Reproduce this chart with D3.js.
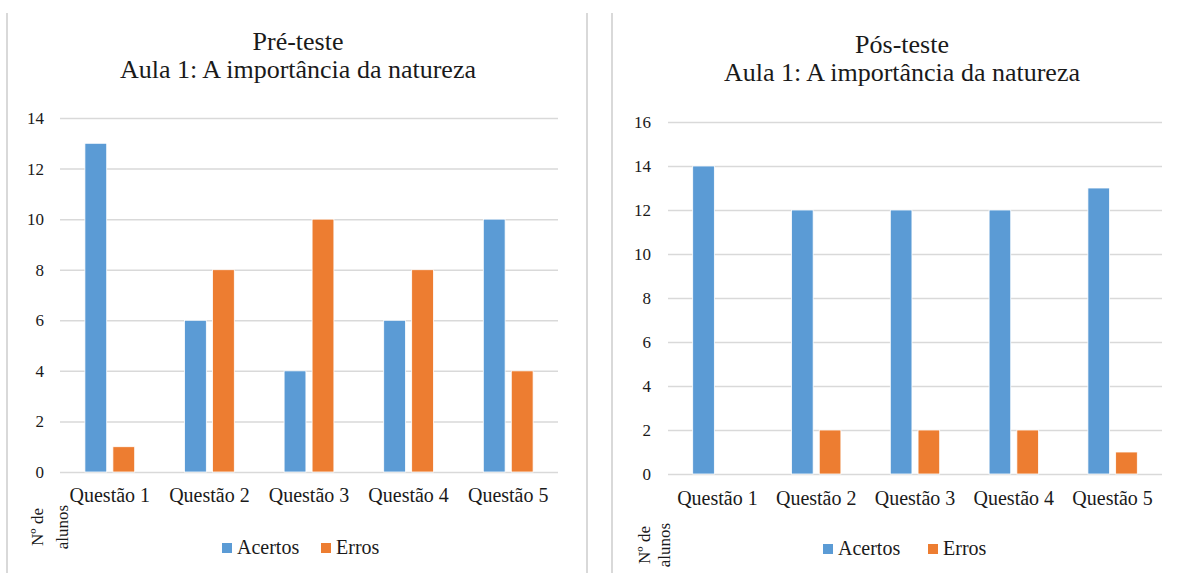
<!DOCTYPE html>
<html>
<head>
<meta charset="utf-8">
<script src="https://cdn.jsdelivr.net/npm/d3@7"></script>
<style>
    body { margin: 0; background: #ffffff; }
</style>
</head>
<body>
<div id="chart"></div>
<script>
let questions = ["Questão 1", "Questão 2", "Questão 3", "Questão 4", "Questão 5"];
let series_names = ["Acertos", "Erros"];

let pre_acertos = [13, 6, 4, 6, 10];
let pre_erros = [1, 8, 10, 8, 4];
let pos_acertos = [14, 12, 12, 12, 13];
let pos_erros = [0, 2, 2, 2, 1];

let pre_ticks = [0, 2, 4, 6, 8, 10, 12, 14];
let pos_ticks = [0, 2, 4, 6, 8, 10, 12, 14, 16];

let pre_title = ["Pré-teste", "Aula 1: A importância da natureza"];
let pos_title = ["Pós-teste", "Aula 1: A importância da natureza"];
let y_title = ["Nº de", "alunos"];

let color_map = {
    "Acertos": "#5b9bd5",
    "Erros": "#ed7d31"
};

let serif = "'Liberation Serif', 'Times New Roman', serif";
let text_color = "#1a1a1a";

let chart_width = 1186;
let chart_height = 573;

let svg = d3.select("#chart")
    .append("svg")
    .attr("width", chart_width)
    .attr("height", chart_height);

// panel borders
[7, 587, 612].forEach(function(x) {
    svg.append("line")
        .attr("x1", x).attr("x2", x)
        .attr("y1", 13).attr("y2", chart_height)
        .attr("stroke", "#d9d9d9")
        .attr("stroke-width", 2);
});


function draw_panel(cfg) {

    let g = svg.append("g");

    let yScale = d3.scaleLinear()
        .domain([0, cfg.ticks[cfg.ticks.length - 1]])
        .range([cfg.bottom, cfg.top]);

    let x0 = d3.scaleBand()
        .domain(questions)
        .range([cfg.left, cfg.right])
        .paddingInner(0.5)
        .paddingOuter(0.25);

    let x1 = d3.scaleBand()
        .domain(series_names)
        .range([0, x0.bandwidth()])
        .paddingInner(0.22);

    // gridlines + y labels
    let y_axis = g.append("g")
        .attr("transform", "translate(" + cfg.left + ",0)")
        .call(d3.axisLeft(yScale)
            .tickValues(cfg.ticks)
            .tickSize(-(cfg.right - cfg.left))
            .tickPadding(cfg.label_pad));
    y_axis.select(".domain").remove();
    y_axis.selectAll("line")
        .attr("stroke", "#d9d9d9")
        .attr("stroke-width", 1.5);
    y_axis.selectAll("text")
        .style("font-family", serif)
        .style("font-size", "17px")
        .attr("fill", text_color);

    // bars
    let rows = questions.map(function(q, i) {
        return [
            { "q": q, "s": "Acertos", "v": cfg.acertos[i] },
            { "q": q, "s": "Erros", "v": cfg.erros[i] }
        ];
    });

    g.selectAll(".grp")
        .data(rows)
        .enter()
        .append("g")
        .attr("class", "grp")
        .attr("transform", function(d) { return "translate(" + x0(d[0].q) + ",0)"; })
        .selectAll("rect")
        .data(function(d) { return d.filter(function(e) { return e.v > 0; }); })
        .enter()
        .append("rect")
        .attr("x", function(d) { return x1(d.s); })
        .attr("y", function(d) { return yScale(d.v); })
        .attr("width", x1.bandwidth())
        .attr("height", function(d) { return yScale(0) - yScale(d.v); })
        .attr("fill", function(d) { return color_map[d.s]; })
        .attr("stroke", "#ffffff")
        .attr("stroke-width", 0.8);

    // x labels
    let x_axis = g.append("g")
        .attr("transform", "translate(0," + cfg.bottom + ")")
        .call(d3.axisBottom(x0).tickSize(0));
    x_axis.select(".domain").remove();
    x_axis.selectAll("text")
        .attr("y", cfg.xlab_off)
        .attr("dy", 0)
        .style("font-family", serif)
        .style("font-size", "20px")
        .attr("fill", text_color);

    // title
    cfg.title.forEach(function(t, i) {
        g.append("text")
            .attr("x", cfg.title_x)
            .attr("y", cfg.title_y + i * 28)
            .attr("text-anchor", "middle")
            .style("font-family", serif)
            .style("font-size", "26px")
            .attr("fill", text_color)
            .text(t);
    });

    // y axis title, two rotated lines
    y_title.forEach(function(t, i) {
        g.append("text")
            .attr("transform", "translate(" + cfg.ytitle_x[i] + "," + cfg.ytitle_y + ") rotate(-90)")
            .attr("text-anchor", "middle")
            .style("font-family", serif)
            .style("font-size", "17px")
            .attr("fill", text_color)
            .text(t);
    });

    // legend
    let legend = g.selectAll(".legend")
        .data(series_names)
        .enter()
        .append("g")
        .attr("class", "legend")
        .attr("transform", function(d, i) { return "translate(" + cfg.legend_x[i] + "," + cfg.legend_y + ")"; });

    legend.append("rect")
        .attr("x", 0)
        .attr("y", -11)
        .attr("width", 10)
        .attr("height", 10)
        .attr("fill", function(d) { return color_map[d]; });

    legend.append("text")
        .attr("x", 15)
        .attr("y", 0)
        .style("font-family", serif)
        .style("font-size", "20px")
        .attr("fill", text_color)
        .text(function(d) { return d; });
}


draw_panel({
    acertos: pre_acertos,
    erros: pre_erros,
    ticks: pre_ticks,
    title: pre_title,
    left: 60, right: 558, top: 118, bottom: 472,
    label_pad: 16,
    xlab_off: 30,
    title_x: 298, title_y: 50,
    ytitle_x: [43, 68], ytitle_y: 527,
    legend_x: [222, 321], legend_y: 554
});

draw_panel({
    acertos: pos_acertos,
    erros: pos_erros,
    ticks: pos_ticks,
    title: pos_title,
    left: 668, right: 1162, top: 122, bottom: 474,
    label_pad: 17,
    xlab_off: 31,
    title_x: 902, title_y: 53,
    ytitle_x: [650, 670], ytitle_y: 545,
    legend_x: [823, 928], legend_y: 555
});

</script>
</body>
</html>
